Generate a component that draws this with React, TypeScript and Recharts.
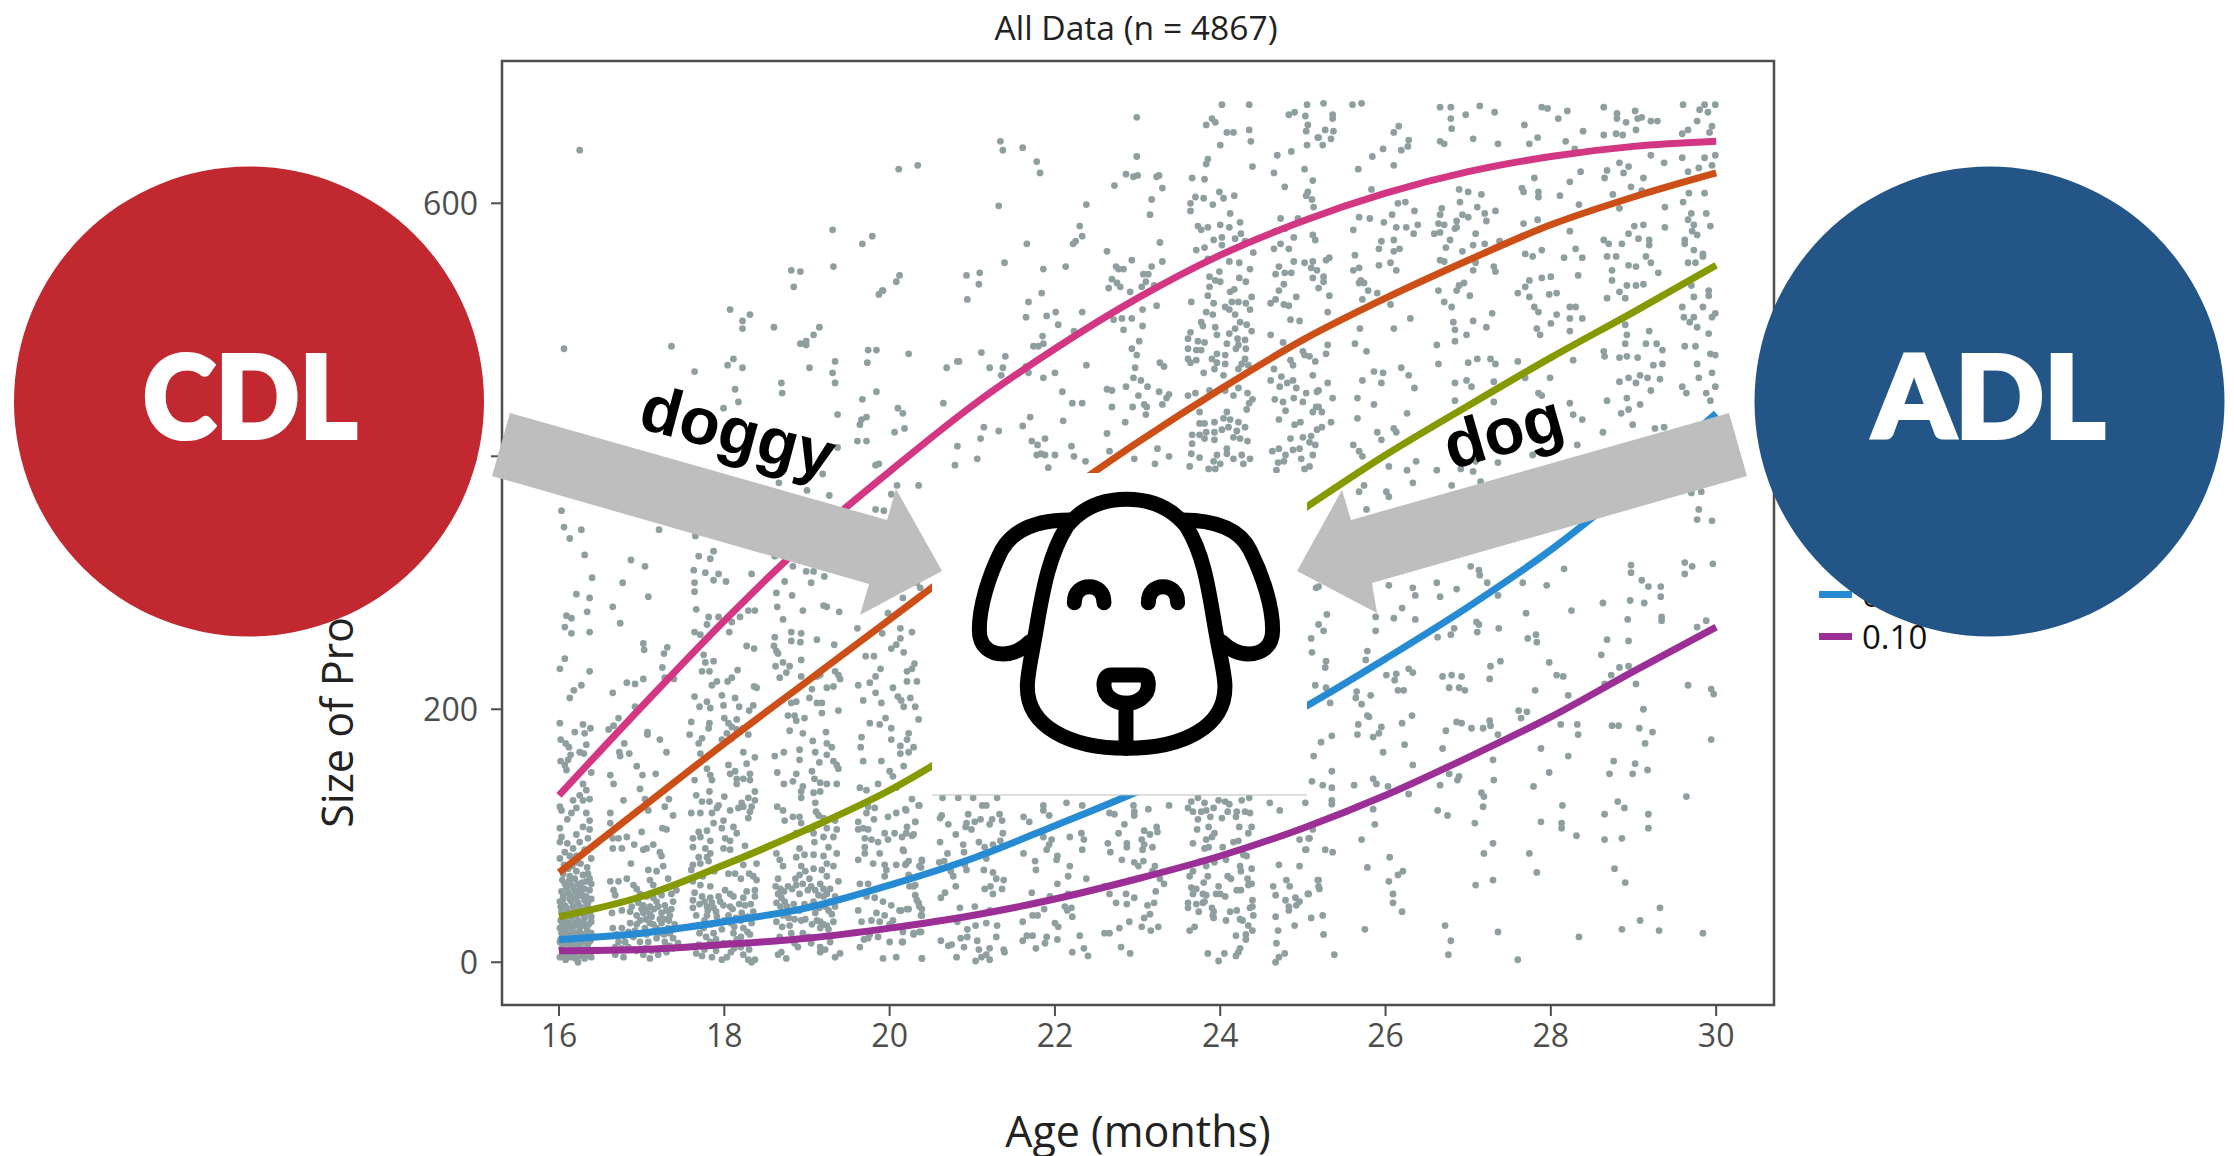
import React from 'react';
import {
  ComposedChart,
  Scatter,
  Line,
  XAxis,
  YAxis,
  ReferenceArea,
  Legend,
} from 'recharts';

const curveAges = [16, 17, 18, 19, 20, 21, 22, 23, 24, 25, 26, 27, 28, 29, 30];
const quantile90 = [132, 202, 270, 333, 388, 440, 485, 525, 559, 586, 608, 625, 637, 645, 649];
const quantile75 = [71, 122, 173, 222, 271, 320, 366, 411, 453, 492, 525, 555, 583, 605, 624];
const quantile50 = [36, 52, 77, 105, 136, 175, 220, 268, 314, 358, 401, 440, 478, 514, 551];
const quantile25 = [18, 23, 32, 43, 61, 82, 108, 135, 166, 201, 240, 281, 326, 378, 434];
const quantile10 = [9, 10, 14, 19, 27, 37, 50, 66, 84, 106, 132, 162, 194, 230, 265];

const xTicks = [16, 18, 20, 22, 24, 26, 28, 30];
const yTicks = [0, 200, 400, 600];

const seriesNames = ['0.90', '0.75', '0.50', '0.25', '0.10'];
const seriesColors = ['#d33682', '#cb4f16', '#859900', '#268bd2', '#9b2f96'];

// [age, size]
const dotsAge16 = [
  [16.25,642],[16.06,485],[16.03,357],[16.06,344],[16.27,342],[16.13,335],[16.31,322],[16.4,304],[16.21,291],[16.37,288],
  [16.09,274],[16.15,272],[16.34,277],[16.07,265],[16.15,260],[16.37,261],[16.07,240],[16.01,232],[16.37,230],[16.27,219],
  [16.18,215],[16.13,209],[16.01,189],[16.29,188],[16.38,185],[16.19,182],[16.31,181],[16.02,176],[16.08,173],[16.12,170],
  [16.33,172],[16.25,166],[16.3,165],[16.14,164],[16.02,159],[16.07,156],[16.11,160],[16.09,152],[16.39,150],[16.29,141],
  [16.33,136],[16.25,132],[16.37,129],[16.29,128],[16.17,128],[16.01,123],[16.03,120],[16.21,122],[16.15,118],[16.1,113],
  [16.33,118],[16.37,112],[16.01,106],[16.29,107],[16.21,101],[16.37,105],[16.03,99],[16.01,95],[16.1,94],[16.17,90],
  [16.25,95],[16.35,98],[16.07,87],[16.13,84],[16.21,84],[16.31,89],[16.01,82],[16.39,82],[16.05,70],[16.13,68],
  [16.21,72],[16.29,69],[16.35,70],[16.07,62],[16.15,61],[16.23,62],[16.33,64],[16.03,56],[16.11,55],[16.19,56],
  [16.27,54],[16.37,57],[16.01,48],[16.07,45],[16.15,48],[16.23,47],[16.31,49],[16.39,50],[16.03,40],[16.11,40],
  [16.19,41],[16.27,41],[16.35,43],[16.07,33],[16.15,35],[16.23,33],[16.31,35],[16.39,36],[16.01,27],[16.09,27],
  [16.17,28],[16.25,27],[16.33,28],[16.03,23],[16.13,22],[16.21,23],[16.29,22],[16.39,23],[16.05,14],[16.15,14],
  [16.25,14],[16.35,14],[16.01,4],[16.08,2],[16.15,4],[16.23,0],[16.31,3],[16.39,4],[16.08,7],[16.19,7],
  [16.29,7],[16.02,18],[16.1,18],[16.18,19],[16.26,19],[16.34,19],[16.02,33],[16.11,31],[16.19,31],[16.28,32],
  [16.36,30],[16.04,10],[16.13,11],[16.22,10],[16.32,11],[16.38,9],[16.05,52],[16.14,52],[16.24,53],[16.33,52],
];

const dotsAge16Dense = [
  [16.06,77],[16.16,76],[16.26,78],[16.34,75],[16.11,74],[16.22,79],[16.04,65],[16.12,64],[16.19,66],[16.28,63],
  [16.37,66],[16.09,59],[16.17,59],[16.25,58],[16.31,58],[16.39,62],[16.05,50],[16.13,50],[16.21,51],[16.29,52],
  [16.35,47],[16.02,44],[16.09,43],[16.17,44],[16.25,44],[16.33,45],[16.38,41],[16.05,37],[16.13,37],[16.21,37],
  [16.29,38],[16.37,39],[16.04,30],[16.14,29],[16.23,30],[16.31,30],[16.39,32],[16.07,24],[16.16,25],[16.25,24],
  [16.34,25],[16.05,20],[16.14,19],[16.23,20],[16.32,21],[16.01,16],[16.09,15],[16.18,16],[16.28,16],[16.38,17],
  [16.03,11],[16.12,9],[16.2,12],[16.27,10],[16.35,11],[16.06,5],[16.13,6],[16.2,3],[16.27,5],[16.35,6],
];

const dotsAge17 = [
  [16.87,318],[17.04,313],[16.77,300],[17.08,289],[17.21,342],[17.36,487],[17.64,467],[17.7,413],
  [16.65,281],[16.74,268],[17.02,252],[17.03,247],[17.31,249],[17.27,244],[17.25,233],[16.82,221],[16.92,220],[17.02,224],
  [17.28,225],[17.39,224],[16.65,213],[16.92,202],[16.72,193],[16.6,184],[16.66,187],[17.07,182],[17.07,180],[16.79,173],
  [17.22,176],[16.73,166],[16.74,163],[16.85,165],[17.3,166],[16.94,155],[16.62,148],[16.66,141],[17.01,148],[17.17,149],
  [16.98,137],[16.78,128],[17.04,129],[17.33,129],[17.28,123],[17.08,120],[16.62,118],[17.38,116],[16.62,110],[17.25,106],
  [17.3,105],[17.0,103],[16.65,98],[16.72,98],[16.82,99],[16.91,93],[17.14,93],[16.65,90],[16.76,90],[17.02,89],
  [17.06,90],[17.22,87],[17.24,84],[16.87,78],[17.26,76],[17.18,72],[17.08,73],[16.62,64],[16.72,64],[16.82,66],
  [16.9,61],[16.94,58],[17.1,65],[17.32,66],[17.14,61],[16.66,57],[16.68,53],[16.98,54],[17.42,57],[17.06,52],
  [17.14,51],[17.24,53],[17.36,54],[17.02,45],[17.1,44],[17.18,48],[17.28,45],[17.38,48],[16.64,39],[16.76,41],
  [16.86,40],[16.94,37],[17.02,39],[17.12,36],[17.24,39],[17.34,37],[16.65,27],[16.76,27],[16.86,31],[16.94,30],
  [17.04,27],[17.14,30],[17.24,31],[17.32,27],[17.4,30],[16.72,16],[16.8,16],[16.9,20],[16.98,16],[17.08,16],
  [17.18,19],[17.28,16],[17.38,19],[16.68,6],[16.78,4],[16.9,10],[17.02,6],[17.1,3],[17.2,6],[17.3,8],[17.38,11],
  [16.88,44],[16.96,47],[17.0,42],[17.06,41],[17.1,38],[17.15,42],[17.2,44],[17.22,34],[17.3,41],[17.36,42],
  [16.98,33],[17.05,34],[17.1,31],[17.18,27],[17.27,34],[17.33,33],[16.84,24],[16.92,25],[17.0,23],[17.06,22],
  [17.12,24],[17.2,23],[17.27,22],[17.34,23],[16.7,22],[16.78,21],[16.68,12],[16.76,11],[16.84,12],[16.94,9],
  [17.04,11],[17.12,9],[17.22,11],[17.34,13],[17.44,15],
];

const dotsAge18 = [
  [18.07,516],[18.31,512],[18.22,507],[18.22,501],[18.11,477],[18.04,472],[18.22,470],[18.13,453],[18.17,443],[17.99,438],
  [17.65,337],[17.87,325],[17.69,321],[17.83,319],[17.63,310],[17.77,308],[17.93,307],[17.87,302],[18.02,301],[17.64,300],[17.64,293],[18.33,307],
  [17.66,279],[17.81,273],[17.93,273],[18.09,269],[18.19,273],[18.29,278],[18.37,278],[17.79,267],[17.64,261],[17.71,259],
  [18.06,261],[18.27,250],[18.36,248],[17.75,243],[17.77,237],[17.87,238],[17.73,230],[17.82,230],[18.16,231],[18.09,225],
  [18.04,222],[17.91,222],[17.85,219],[18.36,218],[18.39,217],[17.64,210],[17.97,211],[18.13,209],[17.79,206],[17.7,202],
  [17.83,201],[17.99,203],[18.18,202],[18.35,203],[18.3,199],[17.6,190],[17.82,189],[18.0,193],[18.05,189],[18.15,192],
  [17.81,185],[18.09,186],[17.58,180],[18.03,181],[18.15,184],[18.29,180],[17.73,177],[17.69,173],[17.97,176],[18.09,177],
  [18.23,185],[17.71,165],[18.23,166],[18.37,162],[18.05,156],[18.27,157],[17.79,153],[17.83,148],[18.07,149],[18.13,151],
  [18.31,149],[17.64,144],[17.85,144],[18.15,141],[18.23,145],[18.31,144],[18.15,145],[17.66,132],[17.82,135],[18.0,131],
  [18.37,135],[17.73,127],[17.82,127],[17.93,124],[18.29,130],[18.37,128],[18.21,126],[17.6,118],[17.71,118],[17.85,118],
  [17.91,122],[18.07,120],[18.31,119],[18.33,123],[18.17,122],[18.23,123],[17.99,112],[17.87,110],[18.11,107],[18.29,114],
  [17.69,103],[17.79,104],[17.97,106],[18.15,102],[17.62,98],[17.71,99],[17.83,96],[18.01,98],[18.07,96],[17.62,91],
  [17.77,90],[17.83,86],[17.69,83],[17.99,90],[18.07,89],[18.25,92],[17.62,77],[17.71,78],[17.81,80],[17.6,73],
  [18.23,77],[18.39,78],[18.15,81],[17.79,83],[18.35,68],[18.39,65],[18.13,70],[17.71,61],[17.83,60],[18.01,57],
  [18.07,54],[18.27,56],[18.37,57],[17.62,49],[17.73,52],[17.83,51],[17.93,52],[18.11,52],[18.23,51],[18.37,52],
  [17.62,43],[17.79,44],[17.87,43],[17.99,45],[18.07,44],[18.25,45],[17.66,37],[17.79,37],[17.91,36],[18.05,37],
  [18.21,39],[18.35,40],[17.75,27],[17.87,23],[17.97,26],[18.11,23],[18.23,27],[18.31,22],[17.69,14],[17.83,16],
  [17.99,15],[18.15,18],[18.27,15],[17.66,7],[17.73,5],[17.85,4],[17.97,2],[18.03,4],[18.23,6],[18.29,2],[18.37,2],[18.33,0],
  [17.64,55],[17.7,46],[17.76,48],[17.8,41],[17.85,47],[17.9,40],[17.95,48],[17.76,33],[17.84,30],[17.92,31],
  [18.0,33],[18.08,31],[18.14,35],[18.2,33],[18.28,36],[18.33,31],[18.1,42],[18.18,46],[18.32,46],[18.12,28],
  [18.2,20],[18.28,24],[17.7,23],[17.78,20],[17.9,18],[18.06,15],[18.12,11],[18.2,12],[18.3,10],[17.76,10],
  [17.9,9],[18.08,8],[17.62,64],[17.74,68],[17.88,72],[18.05,70],[18.2,66],[18.3,70],
];

const dotsAge19 = [
  [18.6,502],[18.92,489],[18.99,491],[18.99,488],[19.08,496],[19.15,502],[18.81,547],[18.92,546],[18.84,534],[19.31,579],
  [19.32,550],[19.34,475],[19.03,470],[19.31,466],[19.34,458],[18.69,458],[18.7,450],[19.37,433],[19.37,407],[19.19,386],
  [19.0,373],[18.66,379],[19.27,369],[18.61,321],[18.83,313],[18.73,301],[18.63,292],[18.82,290],[18.99,309],[19.08,309],[19.21,305],[19.05,300],
  [18.64,281],[18.71,271],[18.95,278],[19.2,282],[19.24,281],[19.39,277],[18.81,261],[18.93,260],[18.61,257],[18.81,254],
  [18.92,253],[18.6,250],[18.63,246],[18.65,244],[19.12,255],[19.33,251],[18.93,239],[18.71,237],[18.62,234],[18.79,234],
  [18.75,229],[18.67,225],[18.93,226],[19.12,226],[19.16,227],[19.34,230],[19.38,227],[19.4,224],[19.06,216],[19.24,217],
  [19.32,218],[19.03,209],[18.81,205],[18.87,206],[19.12,205],[19.18,205],[19.38,199],[19.18,197],[18.77,195],[18.85,195],
  [18.97,193],[18.87,191],[18.79,183],[18.95,181],[19.23,182],[19.07,175],[19.24,173],[19.3,170],[18.91,168],[19.1,166],
  [19.24,164],[18.61,163],[18.72,166],[18.91,160],[19.15,158],[19.32,159],[19.36,156],[19.38,153],[18.64,150],[18.87,149],
  [19.06,151],[18.72,141],[18.83,143],[19.09,145],[19.16,142],[19.08,134],[18.95,139],[18.93,135],[18.93,130],[19.16,135],
  [19.24,141],[19.36,141],[19.1,126],[18.64,123],[18.71,120],[19.11,119],[18.73,112],[18.83,115],[18.91,115],[19.14,116],
  [19.2,114],[18.93,110],[19.34,112],[19.36,105],[19.24,106],[18.87,102],[19.01,105],[19.08,102],[19.2,99],[19.32,99],
  [18.63,86],[18.91,90],[19.26,91],[19.09,95],[18.97,85],[19.08,85],[19.2,84],[19.36,86],[18.67,81],[18.87,83],
  [19.24,78],[18.71,76],[18.93,76],[19.08,74],[19.18,73],[19.32,76],[18.65,66],[18.91,69],[19.03,66],[19.24,68],
  [18.77,60],[18.87,61],[18.95,62],[19.16,62],[19.38,64],[18.65,54],[18.69,51],[18.91,54],[19.01,57],[19.14,53],
  [19.24,54],[18.63,47],[18.73,48],[19.08,48],[19.2,52],[19.28,48],[18.71,37],[18.91,41],[19.1,39],[19.26,41],
  [18.63,32],[18.79,29],[18.93,33],[19.16,32],[19.24,29],[18.67,20],[18.81,23],[18.95,23],[19.16,27],[19.26,26],
  [18.69,8],[18.65,6],[18.75,3],[18.89,12],[19.16,12],[19.22,10],[19.16,8],[19.34,4],[19.4,7],
  [18.62,60],[18.68,58],[18.72,56],[18.82,58],[18.86,66],[18.98,72],[19.05,60],[19.1,57],[19.2,58],[19.28,58],
  [19.34,52],[18.68,44],[18.76,44],[18.84,46],[18.97,46],[19.04,44],[19.15,43],[19.22,44],[19.3,38],[19.34,44],
  [18.7,28],[18.78,35],[18.85,34],[18.98,34],[19.06,30],[19.12,33],[19.2,30],[19.32,32],[18.85,15],[19.05,15],
  [19.28,16],[19.02,20],
];

const dotsAge20 = [
  [19.74,484],[19.84,484],[20.23,481],[19.73,474],[19.84,451],[19.67,445],[19.72,431],[19.66,429],[19.64,425],[19.61,412],
  [19.72,412],[19.83,393],[19.87,394],[19.79,574],[19.67,568],[19.91,531],[19.87,528],[20.12,543],[20.08,538],[19.92,531],
  [20.11,627],[20.34,630],[20.1,438],[20.16,434],[20.06,419],[20.18,422],[20.09,377],[20.35,377],[20.02,370],[19.83,358],[19.93,357],
  [20.37,296],[20.33,300],[20.16,288],[19.98,276],[19.61,264],[19.91,260],[20.13,264],[20.27,261],[20.13,256],[20.08,251],
  [20.02,248],[20.17,245],[19.71,242],[19.81,242],[20.3,236],[20.27,232],[20.21,230],[19.89,232],[19.83,226],[19.62,219],
  [19.76,221],[20.04,217],[20.21,222],[20.33,222],[19.83,213],[20.1,210],[20.14,207],[20.25,209],[19.68,207],[19.9,205],
  [20.17,202],[20.31,202],[20.35,192],[19.76,189],[19.88,188],[19.95,193],[20.02,185],[20.23,181],[19.66,178],[20.21,176],
  [19.65,170],[20.02,176],[20.13,171],[20.29,170],[20.13,165],[20.23,166],[19.68,159],[19.9,159],[20.17,155],[20.0,151],
  [20.04,147],[19.86,141],[19.64,138],[19.72,136],[20.08,138],[19.74,123],[19.82,122],[20.08,118],[20.2,120],[20.36,124],
  [19.72,118],[19.98,115],[20.31,111],[19.62,111],[19.81,113],[19.68,106],[19.62,105],[19.74,105],[19.94,102],[20.06,102],
  [20.2,102],[20.29,101],[19.7,98],[19.78,97],[19.86,95],[19.98,97],[19.7,91],[19.7,86],[20.16,89],[19.88,86],
  [19.62,81],[19.8,78],[20.39,81],[20.2,78],[19.94,77],[20.08,77],[20.36,76],[19.64,62],[19.74,62],[19.94,68],
  [19.96,73],[20.29,60],[20.33,49],[20.36,44],[20.39,37],[19.72,52],[19.82,51],[19.92,48],[20.02,45],[19.62,41],
  [20.12,41],[20.23,42],[19.84,39],[19.94,37],[20.04,33],[19.66,32],[19.78,33],[19.88,32],[20.0,30],[19.69,18],
  [19.74,19],[19.86,20],[20.0,16],[20.15,16],[20.29,23],[20.36,24],[19.64,12],[19.92,3],[20.08,4],[20.39,3],[19.76,22],
  [20.27,129],[20.35,124],[20.19,121],[20.21,107],[20.31,111],[20.15,99],[20.27,100],[20.17,88],[20.19,77],[20.23,80],
  [20.39,80],[20.38,75],[20.23,69],[20.24,60],[20.31,61],[20.31,53],[20.35,47],[20.21,42],[20.14,41],[20.39,42],
  [20.38,37],[20.16,24],[20.29,22],[20.38,24],[20.16,16],[20.39,3],
];

const dotsAge21 = [
  [20.69,470],[20.82,475],[20.84,475],[20.65,442],[20.79,393],[20.82,408],[20.93,543],[21.09,545],[21.08,536],[20.94,524],
  [21.11,482],[21.21,470],[21.4,479],[21.37,470],[21.35,464],[21.14,423],[21.32,420],[21.1,414],[21.06,398],[21.34,649],
  [21.37,642],[21.61,644],[21.78,633],[21.82,624],[21.32,598],[21.66,568],[21.39,553],[21.86,548],[21.84,529],[21.68,522],
  [21.65,510],[21.9,511],[21.85,495],[21.74,487],[21.8,487],[21.86,489],[21.65,471],[21.68,466],[21.86,462],[21.61,424],
  [21.7,431],[21.72,412],[21.79,409],[21.88,414],[21.78,401],[21.83,402],[21.88,401],[21.92,391],[20.64,130],[20.83,130],
  [21.01,130],[21.3,130],[21.12,124],[21.17,124],[20.63,116],[20.61,114],[20.95,117],[20.71,109],[20.93,110],[20.92,107],
  [21.03,111],[21.1,113],[20.99,105],[21.33,117],[21.36,112],[21.24,113],[21.21,109],[20.8,101],[21.37,102],[20.61,95],
  [20.89,93],[21.08,95],[21.25,93],[21.34,96],[21.15,91],[20.7,86],[20.9,87],[21.17,82],[20.6,79],[20.66,80],
  [20.91,77],[20.93,73],[20.74,72],[20.77,68],[21.14,73],[21.25,71],[21.29,66],[21.38,65],[20.8,60],[21.15,58],
  [21.22,60],[21.25,54],[21.36,58],[20.67,55],[20.62,51],[20.85,43],[21.03,44],[21.21,41],[20.82,32],[21.17,31],
  [21.04,29],[21.3,29],[20.94,26],[20.62,17],[20.75,14],[20.71,13],[20.86,19],[20.94,20],[21.06,17],[21.29,20],
  [20.9,12],[21.08,10],[21.21,11],[21.38,10],[21.39,8],[20.81,4],[21.17,6],[21.11,4],[21.04,1],[21.21,2],
  [21.62,115],[21.69,111],[21.86,124],[21.86,120],[21.93,116],[21.86,99],[21.96,97],[21.93,93],[21.62,86],[21.9,89],
  [21.76,80],[21.77,73],[21.72,55],[21.94,52],[21.87,42],[21.73,37],[21.79,37],[21.61,32],[21.73,21],[21.66,21],
  [21.61,17],[21.9,20],[21.88,15],[21.77,11],
];

const dotsAge22 = [
  [22.99,668],[22.99,637],[22.86,623],[22.95,621],[22.72,614],[22.38,599],[22.3,582],[22.33,574],[22.25,570],[22.22,568],
  [22.13,550],[22.01,514],[22.33,514],[22.04,504],[22.23,499],[22.0,466],[22.38,472],[22.1,428],[22.09,451],[22.21,442],
  [22.33,442],[22.0,401],[22.2,408],[22.23,400],[22.37,396],[22.63,562],[22.93,555],[22.74,550],[22.77,548],[22.83,548],
  [22.69,540],[22.65,533],[22.75,537],[22.79,534],[22.91,530],[22.81,509],[22.71,508],[22.93,509],[22.83,500],[22.93,485],
  [22.97,470],[22.95,462],[22.86,455],[22.63,453],[22.69,452],[22.69,439],[22.94,439],[22.85,427],[22.63,418],[22.66,404],
  [22.96,398],[22.14,126],[22.33,124],[22.18,99],[22.32,102],[22.35,97],[22.03,84],[22.02,81],[22.33,89],[22.18,76],
  [22.16,68],[22.38,66],[22.03,62],[22.16,54],[22.12,44],[22.2,43],[22.15,41],[22.21,36],[22.0,31],[22.04,28],
  [22.03,18],[22.3,21],[22.35,11],[22.21,8],[22.4,5],[22.66,118],[22.72,117],[22.95,124],[22.96,119],[22.96,116],
  [22.84,109],[22.77,102],[22.64,94],[22.87,94],[22.87,91],[22.67,87],[22.81,81],[22.96,79],[22.6,60],[22.66,54],
  [22.86,54],[22.96,51],[22.74,47],[22.87,46],[22.9,32],[22.78,27],[22.6,23],[22.66,23],[22.8,12],[22.91,7],
];

const dotsAge23 = [
  [23.0,622],[23.23,621],[23.26,622],[23.3,612],[23.17,603],[23.15,591],[23.05,534],[23.1,538],[23.07,544],[23.13,544],
  [23.17,550],[23.3,554],[23.2,535],[23.27,569],[23.23,519],[23.06,516],[23.06,503],[23.02,491],[22.99,480],[23.27,474],
  [23.32,471],[23.04,460],[23.12,455],[23.01,448],[23.08,441],[23.11,439],[23.1,433],[23.26,451],[23.38,449],[23.35,446],
  [23.3,441],[23.24,406],[23.21,394],[23.38,400],[23.13,121],[23.38,124],[23.23,107],[23.24,103],[23.08,104],[23.15,101],
  [23.05,97],[23.08,93],[23.06,89],[23.18,91],[23.01,76],[23.07,80],[23.21,76],[23.18,72],[23.27,66],[23.32,62],
  [23.22,56],[23.12,45],[23.2,47],[23.15,38],[23.08,35],[23.05,28],[23.25,28],[23.16,25],
];

const dotsAge24 = [
  [24.02,678],[24.35,678],[23.9,667],[23.94,664],[23.83,662],[24.08,656],[24.16,656],[24.35,658],[24.37,649],[24.0,646],
  [23.85,635],[23.83,631],[24.39,629],[23.66,620],[23.81,619],[23.99,609],[24.17,606],[24.04,604],[23.7,605],[23.8,604],
  [23.64,600],[23.64,594],[23.91,599],[24.12,592],[24.24,585],[24.0,583],[24.11,581],[23.73,582],[23.77,579],[23.85,581],
  [24.02,573],[23.92,571],[24.18,572],[24.25,576],[23.81,565],[23.71,563],[24.02,567],[24.3,570],[24.4,561],[23.85,556],
  [24.11,554],[24.23,553],[23.99,546],[24.36,548],[23.87,542],[23.94,539],[24.0,538],[24.23,541],[24.31,538],[23.87,534],
  [24.12,530],[24.17,532],[23.85,527],[23.65,522],[23.92,521],[24.38,526],[24.31,521],[24.06,518],[24.14,522],[24.22,522],
  [24.11,516],[24.18,512],[24.36,516],[23.83,514],[23.91,512],[23.77,506],[23.79,503],[23.94,502],[24.24,506],[24.32,504],
  [24.38,499],[24.18,501],[23.64,498],[23.61,493],[23.73,491],[23.81,490],[23.96,496],[24.11,497],[24.21,493],[24.3,492],
  [24.08,489],[24.22,488],[24.19,485],[24.31,485],[23.61,485],[23.71,484],[23.77,484],[23.96,481],[24.06,480],[23.9,477],
  [23.61,477],[23.71,476],[23.64,474],[23.96,474],[24.06,473],[23.93,469],[24.3,477],[24.26,473],[24.34,472],[24.22,469],
  [23.8,466],[24.04,464],[23.61,448],[23.7,450],[23.87,452],[24.06,452],[24.22,454],[24.16,448],[24.33,450],[24.39,445],
  [24.35,442],[24.32,437],[23.75,435],[24.08,435],[24.04,430],[24.12,429],[24.22,427],[23.75,426],[23.81,426],[23.93,427],
  [24.02,421],[24.1,423],[24.3,423],[24.2,420],[23.83,419],[23.66,417],[23.75,417],[23.93,419],[24.16,415],[24.24,414],
  [24.33,412],[23.81,414],[23.93,413],[23.66,410],[24.08,406],[24.08,402],[23.65,402],[23.75,399],[23.96,401],[24.16,398],
  [24.26,401],[24.36,398],[23.63,392],[23.92,396],[24.0,394],[24.28,394],[23.86,390],[23.94,390],
  [23.73,130],[23.65,127],[23.81,126],[23.98,128],[24.06,127],[24.11,125],[24.26,128],[24.35,130],[23.61,122],[23.67,119],
  [23.77,119],[23.83,120],[23.92,122],[23.88,115],[24.02,114],[24.09,119],[24.2,119],[24.3,119],[24.36,118],[23.73,113],
  [24.19,115],[23.72,105],[23.86,107],[24.23,107],[24.38,107],[24.34,102],[23.93,102],[23.9,99],[23.83,97],[23.67,94],
  [24.16,95],[24.22,96],[23.81,90],[23.86,91],[24.03,91],[24.28,85],[24.32,84],[23.77,80],[23.93,79],[24.07,81],
  [23.83,76],[23.67,72],[24.24,76],[24.25,72],[24.38,74],[23.63,68],[23.85,68],[24.09,68],[24.13,66],[24.33,66],
  [23.8,63],[23.65,59],[23.71,58],[23.67,54],[23.98,60],[23.95,54],[24.0,54],[24.06,52],[24.2,57],[24.25,57],
  [24.34,61],[24.38,62],[23.79,54],[23.83,53],[24.39,49],[24.39,44],[24.36,43],[23.81,48],[23.61,47],[23.61,43],
  [23.71,46],[23.79,47],[23.74,40],[23.9,43],[23.92,40],[23.91,37],[23.92,35],[24.12,40],[24.2,41],[24.4,37],
  [24.07,33],[24.24,34],[24.27,33],[23.69,28],[23.63,25],[24.34,29],[24.39,25],[24.19,21],[24.31,22],[24.31,18],
  [24.24,11],[24.22,8],[23.85,7],[24.05,7],[24.19,5],[23.98,1],
];

const dotsAge25 = [
  [24.83,670],[24.9,672],[25.05,678],[25.03,669],[25.06,662],[25.04,657],[25.05,646],[25.18,652],[24.86,641],[24.69,638],
  [24.65,624],[25.02,627],[25.12,618],[24.78,613],[25.06,609],[25.04,606],[25.11,603],[25.13,597],[24.73,588],[24.94,588],
  [24.67,578],[24.79,580],[24.89,573],[25.12,575],[25.15,571],[24.73,568],[24.65,564],[24.83,564],[24.89,554],[25.02,553],
  [25.12,554],[24.71,550],[24.67,544],[24.78,545],[24.86,545],[25.1,549],[25.17,547],[25.12,541],[24.77,536],[24.71,531],
  [25.19,533],[24.61,521],[24.67,524],[24.92,526],[24.77,520],[24.83,519],[24.85,508],[24.96,507],[24.61,496],[24.76,490],
  [25.0,483],[25.02,480],[25.08,479],[25.15,475],[24.85,476],[24.88,472],[24.65,469],[24.74,463],[24.61,460],[25.12,464],
  [24.72,455],[24.81,458],[24.88,460],[24.92,454],[25.17,451],[25.04,450],[24.89,446],[25.0,443],[24.66,445],[24.76,443],
  [24.79,436],[25.12,435],[25.19,439],[24.71,429],[24.9,425],[24.97,427],[25.17,421],[24.85,414],[25.0,415],[25.1,416],
  [25.08,411],[25.15,409],[24.63,404],[24.71,406],[24.88,405],[24.96,406],[25.12,401],[24.79,401],[24.98,398],[24.7,395],
  [24.77,396],[24.68,389],[25.02,390],[25.08,392],[24.6,126],[24.72,120],[25.03,126],[24.71,77],[24.96,76],[24.96,97],
  [25.08,98],[25.04,89],[25.12,105],[24.64,60],[24.67,53],[24.8,65],[24.84,60],[24.79,49],[24.91,51],[24.96,48],
  [24.92,45],[24.83,44],[24.83,41],[25.06,54],[25.19,65],[25.19,60],[24.67,36],[24.9,29],[25.1,35],[24.7,25],
  [24.68,15],[24.78,7],[24.71,4],[24.67,0],[25.16,296],[25.19,297],[25.29,275],[25.19,267],[25.25,262],[25.1,256],
  [25.11,245],[25.28,238],[25.27,233],[25.15,219],[25.28,217],[25.33,205],[25.22,174],[25.35,179],[25.13,163],[25.35,151],
  [25.11,143],[25.24,140],[25.35,138],[25.35,128],[25.35,125],[25.07,98],[25.27,89],[25.36,87],[25.03,89],[25.18,65],
  [25.2,58],[25.07,54],[25.24,37],[25.25,22],[25.38,6],[25.25,679],[25.36,670],[25.36,667],[25.27,658],
  [25.37,657],[25.24,646],[25.34,651],[25.19,652],[25.32,557],[25.28,555],[25.25,542],[25.25,538],[25.32,527],
  [25.3,514],[25.3,488],[25.28,481],[25.3,458],[25.19,452],[25.36,446],[25.16,439],[25.23,435],[25.34,427],[25.23,423],
];

const dotsAge26 = [
  [25.6,678],[25.71,679],[26.16,661],[26.1,656],[26.28,650],[26.27,645],[26.19,642],[25.97,643],[25.84,637],[25.67,627],
  [26.1,630],[25.83,611],[26.08,591],[26.24,601],[26.15,600],[26.35,594],[25.68,589],[25.81,588],[25.61,579],[25.98,585],
  [26.13,581],[26.25,581],[26.39,583],[26.34,576],[25.61,547],[25.68,549],[25.92,551],[26.06,553],[26.13,547],[25.63,559],
  [25.7,539],[25.74,537],[25.68,537],[25.79,531],[25.9,529],[25.72,524],[26.17,564],[26.1,562],[25.95,570],[25.92,564],
  [26.1,571],[26.06,520],[26.3,509],[26.1,501],[25.69,501],[25.63,489],[25.77,483],[25.66,446],[25.86,441],[25.66,430],
  [26.26,434],[25.95,458],[25.86,467],[25.97,466],[25.72,460],[26.19,470],[26.28,464],[26.35,454],[25.9,419],[25.95,413],
  [26.1,422],[26.13,419],[25.61,409],[25.68,404],[25.72,400],[26.04,392],[26.26,389],[26.37,396],[25.74,377],[25.68,372],
  [26.01,372],[26.04,368],[26.33,379],[25.77,358],[25.78,246],[25.76,239],[25.65,214],[25.64,209],[25.82,211],[25.71,204],
  [25.78,195],[25.8,194],[26.32,195],[26.2,189],[25.67,188],[25.66,180],[25.95,186],[25.92,181],[25.85,178],[25.97,166],
  [26.23,172],[26.33,156],[25.62,140],[25.85,145],[25.89,141],[26.03,139],[26.28,133],[25.85,121],[25.87,109],[25.71,97],
  [26.05,83],[26.21,72],[26.15,69],[26.04,64],[25.78,75],[26.09,54],[26.09,47],[26.2,40],[25.75,26],[26.04,298],
  [26.33,296],[26.36,290],[26.2,280],[26.36,271],[26.1,272],[25.88,273],[25.88,262],[26.01,227],[26.13,228],[26.11,223],
  [26.28,232],[26.33,229],[26.15,215],[26.22,215],
];

const dotsAge27 = [
  [26.66,676],[26.79,676],[26.79,667],[26.8,659],[26.97,670],[27.14,677],[27.32,672],[26.66,649],[26.71,647],[27.06,651],
  [27.36,647],[26.89,611],[27.0,609],[27.16,607],[26.9,601],[27.11,597],[27.2,592],[27.33,594],[27.22,586],[26.93,591],
  [27.0,589],[26.86,586],[26.86,581],[26.68,596],[26.66,591],[26.64,584],[26.71,583],[26.59,576],[26.66,577],[26.84,580],
  [27.09,576],[26.78,571],[26.73,565],[26.93,562],[27.06,567],[27.2,568],[27.38,570],[26.66,555],[26.71,554],[27.09,553],
  [27.06,547],[27.31,550],[27.33,546],[26.64,531],[26.89,535],[26.86,531],[26.95,537],[27.02,527],[26.71,522],[26.8,518],
  [26.62,488],[26.84,500],[26.84,491],[26.98,496],[27.06,507],[27.22,502],[27.29,513],[26.82,506],[26.64,473],[27.0,474],
  [27.11,477],[27.27,477],[27.33,473],[26.84,458],[26.98,460],[27.04,455],[27.31,459],[27.31,443],[26.84,444],[26.62,389],
  [26.91,390],[27.06,388],[27.09,396],[27.36,395],[26.8,377],[27.15,380],[26.62,300],[26.66,289],[26.86,295],[27.03,313],
  [27.13,310],[27.14,306],[27.23,300],[27.36,290],[27.1,269],[27.13,267],[27.11,261],[26.83,264],[26.79,259],[26.63,257],
  [27.37,264],[26.69,226],[26.8,227],[26.92,226],[26.77,217],[26.89,217],[26.96,215],[27.27,234],[27.39,238],[27.26,224],
  [26.86,190],[26.92,189],[26.73,183],[27.04,185],[27.18,185],[27.26,191],[27.27,187],[27.36,180],[26.69,169],[27.3,160],
  [26.77,149],[26.89,147],[26.87,144],[27.31,144],[26.66,140],[27.16,134],[27.19,131],[27.18,123],[26.63,120],[26.75,116],
  [27.08,110],[27.3,94],[27.19,86],[27.09,61],[27.3,65],[26.72,29],[27.36,24],[26.79,17],[26.76,6],
];

const dotsAge28 = [
  [27.89,676],[27.96,675],[28.09,667],[28.2,673],[27.68,662],[27.84,652],[27.74,647],[28.18,649],[28.29,643],[28.39,657],
  [27.8,620],[28.23,617],[28.36,625],[27.65,612],[27.67,609],[27.85,609],[27.85,605],[28.11,606],[28.34,599],[27.67,584],
  [27.84,587],[27.69,560],[27.78,558],[27.89,563],[28.16,557],[28.3,564],[28.38,557],[28.23,578],[27.74,539],[27.69,534],
  [27.6,529],[27.89,541],[28.0,542],[28.33,543],[27.74,526],[27.98,528],[28.07,529],[27.8,518],[27.85,514],[28.23,518],
  [28.3,518],[28.23,509],[28.38,509],[28.07,512],[28.0,505],[27.83,501],[27.87,496],[28.23,499],[28.27,476],[27.99,462],
  [28.23,442],[28.27,433],[28.38,429],[27.85,450],[27.89,448],[28.32,409],[27.94,402],[27.78,401],[27.69,462],[27.6,475],
  [27.66,300],[27.95,298],[28.16,311],[27.7,276],[28.25,278],[27.82,259],[27.72,256],[27.83,253],[27.98,237],
  [28.07,227],[28.15,226],[27.81,215],[28.21,211],[27.61,199],[27.71,198],[27.64,193],[28.12,188],[28.32,188],[28.33,180],
  [27.88,169],[28.21,163],[27.98,150],[27.79,139],[28.14,124],[27.88,111],[28.13,110],[28.13,106],[28.31,100],[27.74,86],
  [27.83,71],[28.34,20],[27.6,2],
];

const dotsAge29 = [
  [28.64,654],[28.79,655],[28.87,654],[29.03,658],[28.64,676],[28.8,671],[28.8,667],[28.91,664],[29.02,673],[29.1,668],
  [29.05,667],[29.21,665],[29.29,665],[28.65,620],[28.83,632],[28.68,626],[28.94,629],[29.12,620],[28.88,624],[29.21,638],
  [29.37,632],[28.75,607],[28.83,596],[28.97,613],[29.1,610],[29.38,597],[28.64,571],[28.7,568],[28.86,568],[28.94,576],
  [29.01,582],[29.12,583],[29.38,581],[29.06,572],[29.19,571],[29.19,567],[28.68,558],[28.79,558],[29.15,558],[29.21,553],
  [29.3,545],[28.74,547],[29.03,550],[28.94,551],[28.74,539],[28.83,530],[28.9,525],[28.92,535],[29.03,535],[29.12,536],
  [28.68,525],[28.9,504],[28.92,496],[29.19,499],[29.15,489],[29.28,489],[29.35,484],[28.9,489],[28.64,483],[28.65,479],
  [28.83,478],[28.92,479],[29.05,478],[29.35,473],[29.24,472],[28.83,459],[28.94,462],[29.08,464],[29.17,462],[29.32,461],
  [29.03,458],[29.21,452],[28.92,446],[29.08,441],[28.68,444],[28.94,437],[28.85,434],[28.99,425],[29.26,422],[29.37,423],
  [28.63,419],[28.63,284],[28.96,286],[29.13,284],[28.93,271],[29.34,273],[29.34,270],[28.97,314],[28.97,308],[29.1,302],
  [29.18,297],[29.33,297],[29.33,289],[28.68,255],[28.94,254],[28.61,243],[28.73,227],[28.83,233],[28.94,234],[28.65,220],
  [29.03,220],[29.12,200],[28.74,187],[28.82,187],[29.07,185],[29.23,182],[29.14,173],[28.76,159],[29.02,157],[28.71,149],
  [28.99,149],[29.17,152],[28.81,127],[28.89,122],[28.65,117],[29.18,117],[29.18,106],[28.65,97],[28.86,98],[28.77,74],
  [28.9,63],[29.32,43],[29.08,33],[28.86,26],[29.31,25],
];

const dotsAge30 = [
  [29.6,678],[29.86,678],[29.99,678],[29.8,674],[29.9,672],[29.77,665],[29.95,661],[29.92,656],[29.66,658],[29.59,655],
  [29.59,636],[29.86,636],[29.99,638],[29.79,628],[29.66,625],[29.95,630],[29.6,601],[29.67,608],[29.86,608],[29.7,592],
  [29.66,587],[29.88,592],[29.93,582],[29.73,583],[29.71,578],[29.77,575],[29.62,571],[29.62,568],[29.73,563],[29.84,560],
  [29.84,558],[29.66,553],[29.75,553],[29.7,535],[29.91,531],[29.73,526],[29.91,527],[29.59,518],[29.84,518],[29.61,510],
  [29.73,510],[29.68,506],[29.95,510],[29.99,513],[29.77,502],[29.91,497],[29.75,487],[29.62,487],[29.93,481],[29.99,480],
  [29.77,473],[29.95,466],[29.79,462],[29.59,455],[29.64,450],[29.99,455],[29.88,450],[29.93,444],[29.7,371],[29.82,372],
  [29.79,358],[29.77,350],[29.95,349],[29.62,316],[29.71,313],[29.62,307],[29.96,315],[29.77,265],[29.88,270],[29.66,219],
  [29.94,216],[29.97,212],[29.94,176],[29.64,131],[29.84,23],
];

const scatterData = [
  ...dotsAge16, ...dotsAge16Dense, ...dotsAge17, ...dotsAge18, ...dotsAge19, ...dotsAge20, ...dotsAge21, ...dotsAge22,
  ...dotsAge23, ...dotsAge24, ...dotsAge25, ...dotsAge26, ...dotsAge27, ...dotsAge28, ...dotsAge29, ...dotsAge30,
].map(([age, size]) => ({ age, size }));

const seriesValues = [quantile90, quantile75, quantile50, quantile25, quantile10];
const curveRows = (values: number[]) => curveAges.map((age, i) => ({ age, size: values[i] }));

const FONT = '"Open Sans", "Noto Sans", sans-serif';
const AXIS_GREY = '#4d4d4d';

const Dot = (props: any) => <circle cx={props.cx} cy={props.cy} r={3.4} fill="#8f9fa0" />;

const QuantileLegend = () => (
  <div style={{ fontFamily: FONT }}>
    {seriesNames.map((name, i) => (
      <div key={name} style={{ display: 'flex', alignItems: 'center', height: 42 }}>
        <span style={{ width: 33, height: 7, background: seriesColors[i], marginRight: 10 }} />
        <span style={{ fontSize: 33, color: '#111' }}>{name}</span>
      </div>
    ))}
  </div>
);

// the slide graphics lying on top of the plot
const Overlay = () => (
  <svg width={2234} height={1156} style={{ position: 'absolute', left: 0, top: 0, zIndex: 5 }}>
    <text x={1136} y={27} textAnchor="middle" dominantBaseline="central" fontFamily={FONT} fontSize={33.6} fill="#222">
      All Data (n = 4867)
    </text>

    <rect x={932} y={473} width={375} height={322} fill="#fff" />
    <line x1={932} x2={1307} y1={795} y2={795} stroke="#bbb" strokeWidth={1} />
    <g transform="translate(900,440) scale(0.3333)" fill="none" stroke="#000" strokeWidth={45} strokeLinecap="round" strokeLinejoin="round">
      <path d="M680,178 C760,178 820,210 860,260 C910,340 925,440 945,560 C960,650 975,700 975,740 C975,860 850,925 680,925 C510,925 382,860 382,740 C382,700 395,650 410,560 C430,440 450,340 500,260 C540,210 600,178 680,178 Z" />
      <path d="M845,240 C950,240 1020,270 1050,330 C1090,410 1118,500 1118,570 C1118,620 1085,642 1045,642 C1010,642 985,625 965,605" />
      <path d="M510,240 C410,240 340,270 305,330 C265,410 238,500 238,570 C238,620 270,642 310,642 C345,642 370,625 390,605" />
      <path d="M523,488 C523,455 545,440 568,440 C590,440 612,455 612,488" />
      <path d="M745,488 C745,455 767,440 789,440 C811,440 833,455 833,488" />
      <path d="M635,705 H720 C745,705 745,725 745,735 C745,770 710,790 680,790 C645,790 612,770 612,735 C612,715 620,705 635,705 Z" />
      <path d="M678,790 V925" />
    </g>

    <polygon points="510,413 887,520 896,489 942,571 860,615 869,584 492,476" fill="#bebebe" />
    <polygon points="1729,413 1351,520 1342,490 1297,571 1377,613 1372,583 1747,476" fill="#bebebe" />

    <text x={738} y={431} textAnchor="middle" dominantBaseline="central" transform="rotate(15 738 431)" fontFamily="Liberation Sans" fontWeight={700} fontSize={66} fill="#000">
      doggy
    </text>
    <text x={1503} y={431} textAnchor="middle" dominantBaseline="central" transform="rotate(-16 1503 431)" fontFamily="Liberation Sans" fontWeight={700} fontSize={66} fill="#000">
      dog
    </text>

    <circle cx={249} cy={401.5} r={235} fill="#c1282f" />
    <circle cx={1989.5} cy={401.5} r={235} fill="#245587" />
    <text x={250} y={437.5} textAnchor="middle" fontFamily="Lato" fontWeight={900} fontSize={114} stroke="#fff" strokeWidth={4} textLength={214} lengthAdjust="spacingAndGlyphs" fill="#fff">CDL</text>
    <text x={1989} y={437.5} textAnchor="middle" fontFamily="Lato" fontWeight={900} fontSize={114} stroke="#fff" strokeWidth={4} textLength={232} lengthAdjust="spacingAndGlyphs" fill="#fff">ADL</text>
  </svg>
);

export default function App() {
  const xDomain = [15.31, 30.7];
  const yDomain = [-33.8, 712.5];
  return (
    <div style={{ position: 'absolute', left: 0, top: 0, width: 2234, height: 1156, background: '#fff' }}>
      <ComposedChart width={2234} height={1156} margin={{ top: 61, right: 460, bottom: 5, left: 312 }}>
        <XAxis
          type="number"
          dataKey="age"
          domain={xDomain}
          ticks={xTicks}
          allowDataOverflow
          height={146}
          axisLine={false}
          tickSize={11}
          tickMargin={8}
          tickLine={{ stroke: AXIS_GREY, strokeWidth: 2 }}
          tick={{ fill: AXIS_GREY, fontSize: 32, fontFamily: FONT }}
          label={{ value: 'Age (months)', position: 'insideBottom', offset: 4, fill: '#222', fontSize: 43, fontFamily: FONT }}
        />
        <YAxis
          type="number"
          dataKey="size"
          domain={yDomain}
          ticks={yTicks}
          allowDataOverflow
          width={190}
          axisLine={false}
          tickSize={11}
          tickMargin={13}
          tickLine={{ stroke: AXIS_GREY, strokeWidth: 2 }}
          tick={{ fill: AXIS_GREY, fontSize: 32, fontFamily: FONT }}
          label={{ value: 'Size of Productive Vocabulary', angle: -90, position: 'insideLeft', offset: 26, fill: '#222', fontSize: 43, fontFamily: FONT, style: { textAnchor: 'middle' } }}
        />
        {/* dots go under the curves */}
        <Scatter data={scatterData} dataKey="size" shape={Dot} isAnimationActive={false} legendType="none" zIndex={100} />
        {seriesNames.map((name, i) => (
          <Line
            key={name}
            data={curveRows(seriesValues[i])}
            dataKey="size"
            name={name}
            type="monotone"
            stroke={seriesColors[i]}
            strokeWidth={7}
            dot={false}
            activeDot={false}
            isAnimationActive={false}
            zIndex={400}
          />
        ))}
        <ReferenceArea x1={xDomain[0]} x2={xDomain[1]} y1={yDomain[0]} y2={yDomain[1]} fill="none" stroke={AXIS_GREY} strokeWidth={2.5} />
        <Legend
          layout="vertical"
          align="center"
          verticalAlign="middle"
          content={<QuantileLegend />}
          wrapperStyle={{ left: 1819, top: 447, width: 140, bottom: 'auto', right: 'auto' }}
        />
      </ComposedChart>
      <Overlay />
    </div>
  );
}
